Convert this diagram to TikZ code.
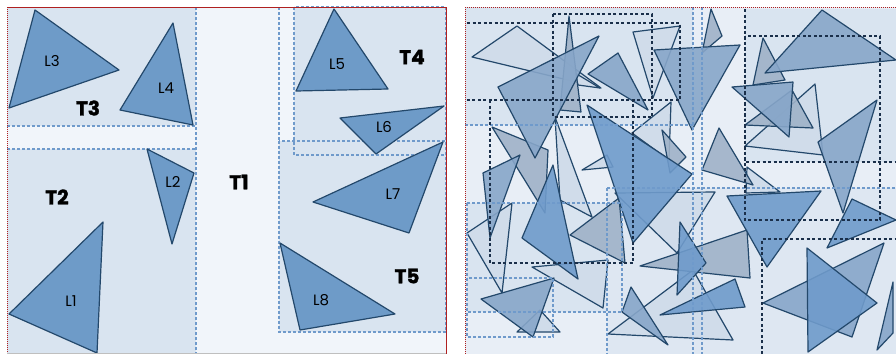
\documentclass[tikz,border=0pt]{standalone}
\usepackage{fontspec}
\usepackage{xcolor}
\usepackage{tikz}
\usetikzlibrary{calc}

\newfontfamily\tilefont{Poppins}
\newfontfamily\tileheavy{Poppins}[BoldFeatures={FakeBold=1.5}]

\definecolor{panelbg}{HTML}{F1F5FA}
\definecolor{rightbg}{HTML}{E8EEF6}
\definecolor{tilefill}{HTML}{D9E4F0}
\definecolor{tileline}{HTML}{6F9ACB}
\definecolor{edgered}{HTML}{B02020}
\definecolor{triline}{HTML}{23486B}
\definecolor{trifill}{HTML}{6E9BC8}
\definecolor{trilight}{HTML}{D0DCEA}
\definecolor{trigrey}{HTML}{9FB2C8}
\definecolor{trimid}{HTML}{87A6C9}
\definecolor{tristrong}{HTML}{6F9BCB}
\definecolor{boxdark}{HTML}{1A2F4A}

\tikzset{
  tile/.style={fill=tilefill},
  tileedge/.style={draw=tileline, dash pattern=on 3pt off 2pt, line width=1.2pt},
  darkbox/.style={draw=boxdark, dash pattern=on 3pt off 2.5pt, line width=1.3pt},
  leaf/.style={draw=triline, fill=trifill, line width=1.2pt, line join=round},
  trilt/.style={draw=triline, fill=trilight, line width=1.2pt, line join=round},
  trigr/.style={draw=triline, fill=trigrey, fill opacity=0.9, line width=1.2pt, line join=round},
  trimd/.style={draw=triline, fill=trimid, fill opacity=0.9, line width=1.2pt, line join=round},
  trist/.style={draw=triline, fill=tristrong, fill opacity=0.9, line width=1.2pt, line join=round},
  leaflabel/.style={font=\tilefont\fontsize{15}{15}\selectfont},
  tilelabel/.style={font=\tileheavy\fontsize{20}{20}\bfseries\selectfont},
}

\begin{document}
\begin{tikzpicture}[x=1pt, y=-1pt]
  \useasboundingbox (0,0) rectangle (896,354);

  % ---------------- left panel: tiles T1..T5 ----------------
  \fill[panelbg] (7,7) rectangle (446,354);
  \fill[tile] (7,7) rectangle (196,126);     % T3
  \fill[tile] (7,149) rectangle (196,354);   % T2
  \fill[tile] (294,7) rectangle (446,155);   % T4
  \fill[tile] (279,141) rectangle (446,332); % T5

  \draw[tileedge] (7,126) -- (196,126);
  \draw[tileedge] (7,149) -- (196,149);
  \draw[tileedge] (196,7) -- (196,354);
  \draw[tileedge] (294,7) rectangle (446,155);
  \draw[tileedge] (279,141) rectangle (446,332);
  \draw[tileedge] (279,7) -- (279,141);

  % leaves
  \draw[leaf] (103,222) -- (97,353) -- (9,314) -- cycle;
  \draw[leaf] (147,149) -- (194,173) -- (172,244) -- cycle;
  \draw[leaf] (35,10) -- (119,70) -- (9,108) -- cycle;
  \draw[leaf] (173,23) -- (193,125) -- (120,110) -- cycle;
  \draw[leaf] (334,9) -- (388,89) -- (296,91) -- cycle;
  \draw[leaf] (340,118) -- (444,106) -- (376,154) -- cycle;
  \draw[leaf] (443,142) -- (409,233) -- (313,202) -- cycle;
  \draw[leaf] (280,243) -- (395,314) -- (300,330) -- cycle;

  \node[leaflabel] (l1) at (71,301) {L1};
  \node[leaflabel] (l2) at (173,182) {L2};
  \node[leaflabel] (l3) at (52,61) {L3};
  \node[leaflabel] (l4) at (166,88) {L4};
  \node[leaflabel] (l5) at (337,64) {L5};
  \node[leaflabel] (l6) at (384,127) {L6};
  \node[leaflabel] (l7) at (393,194) {L7};
  \node[leaflabel] (l8) at (321,300) {L8};

  \node[tilelabel] (t1) at (239,182) {T1};
  \node[tilelabel] (t2) at (57,197) {T2};
  \node[tilelabel] (t3) at (88,108) {T3};
  \node[tilelabel] (t4) at (412,57) {T4};
  \node[tilelabel] (t5) at (407,276) {T5};

  % panel border
  \draw[edgered, line width=1pt] (7,7) -- (446,7) -- (446,354);
  \draw[edgered, densely dotted, line width=1pt] (7,7) -- (7,354);
  \draw[gray!50] (7,353.5) -- (446,353.5);

  % ---------------- right panel: unbalanced tiles ----------------
  \fill[rightbg] (465,7) rectangle (896,354);
  \fill[tilefill] (465,7) rectangle (693,125);
  \fill[tilefill] (745,9) rectangle (896,162);
  \fill[tilefill] (467,203) rectangle (622,312);
  \fill[tilefill!70!rightbg] (607,188) rectangle (896,354);

  % light triangles
  \draw[trilt] (472,57) -- (517,26) -- (601,88) -- cycle;
  \draw[trilt] (633,32) -- (680,26) -- (653,98) -- cycle;
  \draw[trilt] (575,73) -- (600,88) -- (578,85) -- cycle;
  \draw[trilt] (632,133) -- (671,102) -- (669,160) -- cycle;
  \draw[trilt] (582,170) -- (607,155) -- (613,167) -- cycle;
  \draw[trilt] (555,117) -- (592,217) -- (560,200) -- cycle;
  \draw[trilt] (467,233) -- (512,203) -- (502,293) -- cycle;
  \draw[trilt] (532,267) -- (608,260) -- (603,308) -- cycle;
  \draw[trilt] (517,332) -- (560,332) -- (540,310) -- cycle;
  \draw[trilt] (608,334) -- (693,270) -- (733,340) -- cycle;
  \draw[trilt] (615,193) -- (715,192) -- (677,253) -- cycle;
  \draw[trilt] (747,167) -- (780,192) -- (746,193) -- cycle;
  \draw[trilt] (745,146) -- (815,84) -- (823,155) -- cycle;

  % grey triangles
  \draw[trigr] (569,16) -- (581,112) -- (560,110) -- cycle;
  \draw[trigr] (711,9) -- (722,36) -- (702,53) -- cycle;
  \draw[trigr] (662,130) -- (686,157) -- (670,173) -- cycle;
  \draw[trigr] (702,170) -- (719,128) -- (753,185) -- cycle;
  \draw[trigr] (492,127) -- (548,150) -- (545,213) -- cycle;
  \draw[trigr] (570,235) -- (619,198) -- (625,263) -- cycle;
  \draw[trigr] (640,266) -- (747,230) -- (750,278) -- cycle;
  \draw[trigr] (763,38) -- (785,80) -- (753,85) -- cycle;
  \draw[trigr] (745,125) -- (792,90) -- (813,128) -- cycle;

  % medium triangles
  \draw[trimd] (498,87) -- (599,36) -- (535,158) -- cycle;
  \draw[trimd] (588,74) -- (618,53) -- (648,110) -- cycle;
  \draw[trimd] (654,50) -- (740,45) -- (692,130) -- cycle;
  \draw[trimd] (483,173) -- (520,155) -- (490,238) -- cycle;
  \draw[trimd] (481,299) -- (554,278) -- (533,337) -- cycle;
  \draw[trimd] (622,312) -- (631,287) -- (668,345) -- cycle;
  \draw[trimd] (765,73) -- (822,10) -- (896,60) -- cycle;
  \draw[trimd] (732,87) -- (793,82) -- (789,137) -- cycle;
  \draw[trimd] (818,142) -- (877,100) -- (843,213) -- cycle;
  \draw[trimd] (763,303) -- (884,243) -- (852,337) -- cycle;
  \draw[trimd] (877,350) -- (893,282) -- (893,333) -- cycle;

  % strong triangles
  \draw[trist] (587,105) -- (692,174) -- (633,243) -- cycle;
  \draw[trist] (553,165) -- (578,279) -- (522,238) -- cycle;
  \draw[trist] (660,315) -- (735,279) -- (745,307) -- cycle;
  \draw[trist] (680,222) -- (706,263) -- (677,295) -- cycle;
  \draw[trist] (727,196) -- (821,191) -- (767,267) -- cycle;
  \draw[trist] (827,248) -- (852,199) -- (896,220) -- cycle;
  \draw[trist] (807,248) -- (877,303) -- (808,352) -- cycle;

  % tile outlines on top
  \draw[tileedge] (465,125) -- (693,125);
  \draw[tileedge] (693,7) -- (693,354);
  \draw[tileedge] (702,7) -- (702,354);
  \draw[tileedge] (467,203) rectangle (622,312);
  \draw[tileedge] (467,278) rectangle (553,337);
  \draw[tileedge] (607,188) -- (896,188);
  \draw[tileedge] (607,188) -- (607,354);
  \draw[darkbox] (467,23) -- (680,23) -- (680,100) -- (467,100);
  \draw[darkbox] (553,14) rectangle (652,117);
  \draw[darkbox] (490,100) rectangle (633,263);
  \draw[darkbox] (745,9) -- (745,162) -- (896,162);
  \draw[darkbox] (745,36) rectangle (880,220);
  \draw[darkbox] (762,354) -- (762,239) -- (896,239);

  % panel border
  \draw[edgered, densely dotted, line width=1pt] (465,7) -- (896,7);
  \draw[edgered, densely dotted, line width=1pt] (465,7) -- (465,354);
\end{tikzpicture}
\end{document}
